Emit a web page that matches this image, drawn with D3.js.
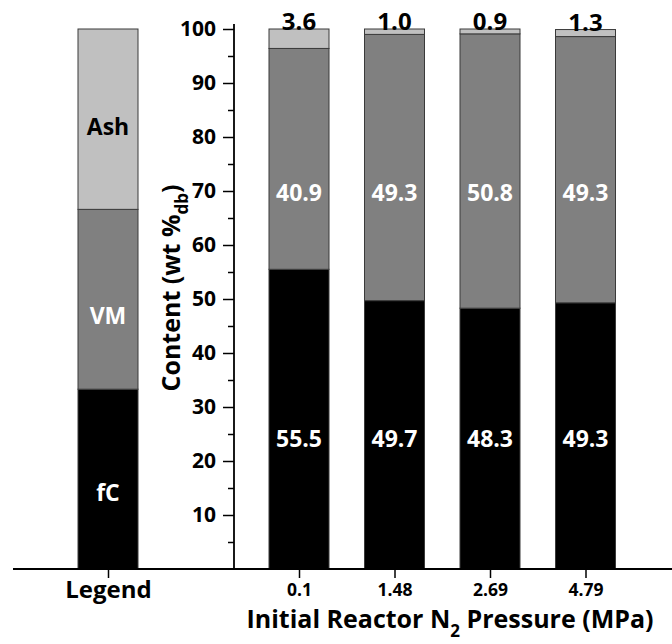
<!DOCTYPE html>
<html><head><meta charset="utf-8">
<script src="https://cdn.jsdelivr.net/npm/d3@7"></script>
<style>
html,body{margin:0;padding:0;background:#fff;}
svg{display:block;font-family:"Open Sans",sans-serif;font-weight:700;}
</style></head>
<body><svg id="c" width="672" height="644"></svg>
<script>
// ---- data ----
const categories = ["0.1", "1.48", "2.69", "4.79"];
const fC  = [55.5, 49.7, 48.3, 49.3];
const VM  = [40.9, 49.3, 50.8, 49.3];
const Ash = [3.6, 1.0, 0.9, 1.3];
const legendParts = ["fC", "VM", "Ash"];
const legendValues = [33.3, 33.3, 33.4];
const yTicks = [10, 20, 30, 40, 50, 60, 70, 80, 90, 100];
const yMinorTicks = [5, 15, 25, 35, 45, 55, 65, 75, 85, 95];

// ---- layout ----
const svg = d3.select("#c");
const slots = ["Legend", " ", ...categories];
const x = d3.scalePoint().domain(slots).range([108, 585.5]);
const y = d3.scaleLinear().domain([0, 100]).range([569, 29]);
const barW = 60;
const yAxisX = 234;
const colors = {fC: "#000000", VM: "#808080", Ash: "#c0c0c0"};
const stroke = "#3a3a3a";

// stacked data bars
const rows = categories.map((c, i) => ({cat: c, fC: fC[i], VM: VM[i], Ash: Ash[i]}));
const stack = d3.stack().keys(["fC", "VM", "Ash"])(rows);
svg.append("g").selectAll("g").data(stack).join("g")
  .attr("fill", d => colors[d.key])
  .selectAll("rect").data(d => d).join("rect")
  .attr("x", d => x(d.data.cat) - barW / 2)
  .attr("y", d => y(d[1]))
  .attr("width", barW)
  .attr("height", d => y(d[0]) - y(d[1]))
  .attr("stroke", stroke).attr("stroke-width", 1);

// legend bar
const legRow = {cat: "Legend"};
legendParts.forEach((k, i) => legRow[k] = legendValues[i]);
const legStack = d3.stack().keys(legendParts)([legRow]);
svg.append("g").selectAll("rect").data(legStack).join("rect")
  .attr("fill", d => colors[d.key])
  .attr("x", x("Legend") - barW / 2)
  .attr("y", d => y(d[0][1]))
  .attr("width", barW)
  .attr("height", d => y(d[0][0]) - y(d[0][1]))
  .attr("stroke", stroke).attr("stroke-width", 1);

// legend labels
const legLabelY = {Ash: 82, VM: 47, fC: 14.3};
const legLabelColor = {Ash: "#000", VM: "#fff", fC: "#fff"};
svg.append("g").selectAll("text").data(legendParts).join("text")
  .attr("x", x("Legend"))
  .attr("y", d => y(legLabelY[d]))
  .attr("text-anchor", "middle").attr("dominant-baseline", "central")
  .attr("font-size", 23).attr("fill", d => legLabelColor[d])
  .text(d => d);

// value labels
const fCLabelY = 24.3, VMLabelY = 69.8;
const lbl = svg.append("g").attr("text-anchor", "middle").attr("font-size", 23);
lbl.selectAll(".fc").data(rows).join("text").attr("class", "fc")
  .attr("x", d => x(d.cat)).attr("y", y(fCLabelY))
  .attr("dominant-baseline", "central").attr("fill", "#fff")
  .text(d => d.fC.toFixed(1));
lbl.selectAll(".vm").data(rows).join("text").attr("class", "vm")
  .attr("x", d => x(d.cat)).attr("y", y(VMLabelY))
  .attr("dominant-baseline", "central").attr("fill", "#fff")
  .text(d => d.VM.toFixed(1));
lbl.selectAll(".ash").data(rows).join("text").attr("class", "ash")
  .attr("x", d => x(d.cat)).attr("y", d => y(d.fC + d.VM + d.Ash) + 1)
  .attr("font-size", 24).attr("fill", "#000")
  .text(d => d.Ash.toFixed(1));

// y axis
const yAxis = svg.append("g").attr("transform", `translate(${yAxisX},0)`)
  .call(d3.axisLeft(y).tickValues(yTicks).tickSize(11).tickPadding(7));
yAxis.select(".domain").remove();
yAxis.selectAll(".tick line").attr("stroke", "#000").attr("stroke-width", 1.5);
yAxis.selectAll(".tick text").attr("font-size", 21).attr("font-family", "Open Sans").attr("font-weight", 700).attr("fill", "#000");
const yMinor = svg.append("g").attr("transform", `translate(${yAxisX},0)`)
  .call(d3.axisLeft(y).tickValues(yMinorTicks).tickSize(6).tickFormat(""));
yMinor.select(".domain").remove();
yMinor.selectAll(".tick line").attr("stroke", "#000").attr("stroke-width", 1.5);
svg.append("line").attr("x1", yAxisX).attr("x2", yAxisX)
  .attr("y1", y(100) - 5).attr("y2", y(0)).attr("stroke", "#000").attr("stroke-width", 1.8);

// x axis
const xAxis = svg.append("g").attr("transform", `translate(0,${y(0)})`)
  .call(d3.axisBottom(x).tickValues(["Legend", ...categories]).tickSize(9).tickPadding(6));
xAxis.select(".domain").remove();
xAxis.selectAll(".tick line").attr("stroke", "#000").attr("stroke-width", 1.5);
xAxis.selectAll(".tick text").attr("font-size", 17.5).attr("font-family", "Open Sans").attr("font-weight", 700).attr("fill", "#000");
xAxis.selectAll(".tick text").filter(d => d === "Legend").attr("font-size", 24).attr("dy", "0.6em");
svg.append("line").attr("x1", 13).attr("x2", 672)
  .attr("y1", y(0)).attr("y2", y(0)).attr("stroke", "#000").attr("stroke-width", 1.8);

// axis titles
const xt = svg.append("text").attr("x", 450).attr("y", 628)
  .attr("text-anchor", "middle").attr("font-size", 25).attr("fill", "#000");
xt.append("tspan").text("Initial Reactor N");
xt.append("tspan").attr("font-size", 17).attr("dy", 9).text("2");
xt.append("tspan").attr("dy", -9).text(" Pressure (MPa)");

const yt = svg.append("text").attr("transform", `translate(180,288) rotate(-90)`)
  .attr("text-anchor", "middle").attr("font-size", 25).attr("fill", "#000");
yt.append("tspan").text("Content (wt %");
yt.append("tspan").attr("font-size", 17).attr("dy", 8).text("db");
yt.append("tspan").attr("dy", -8).text(")");
</script></body></html>
